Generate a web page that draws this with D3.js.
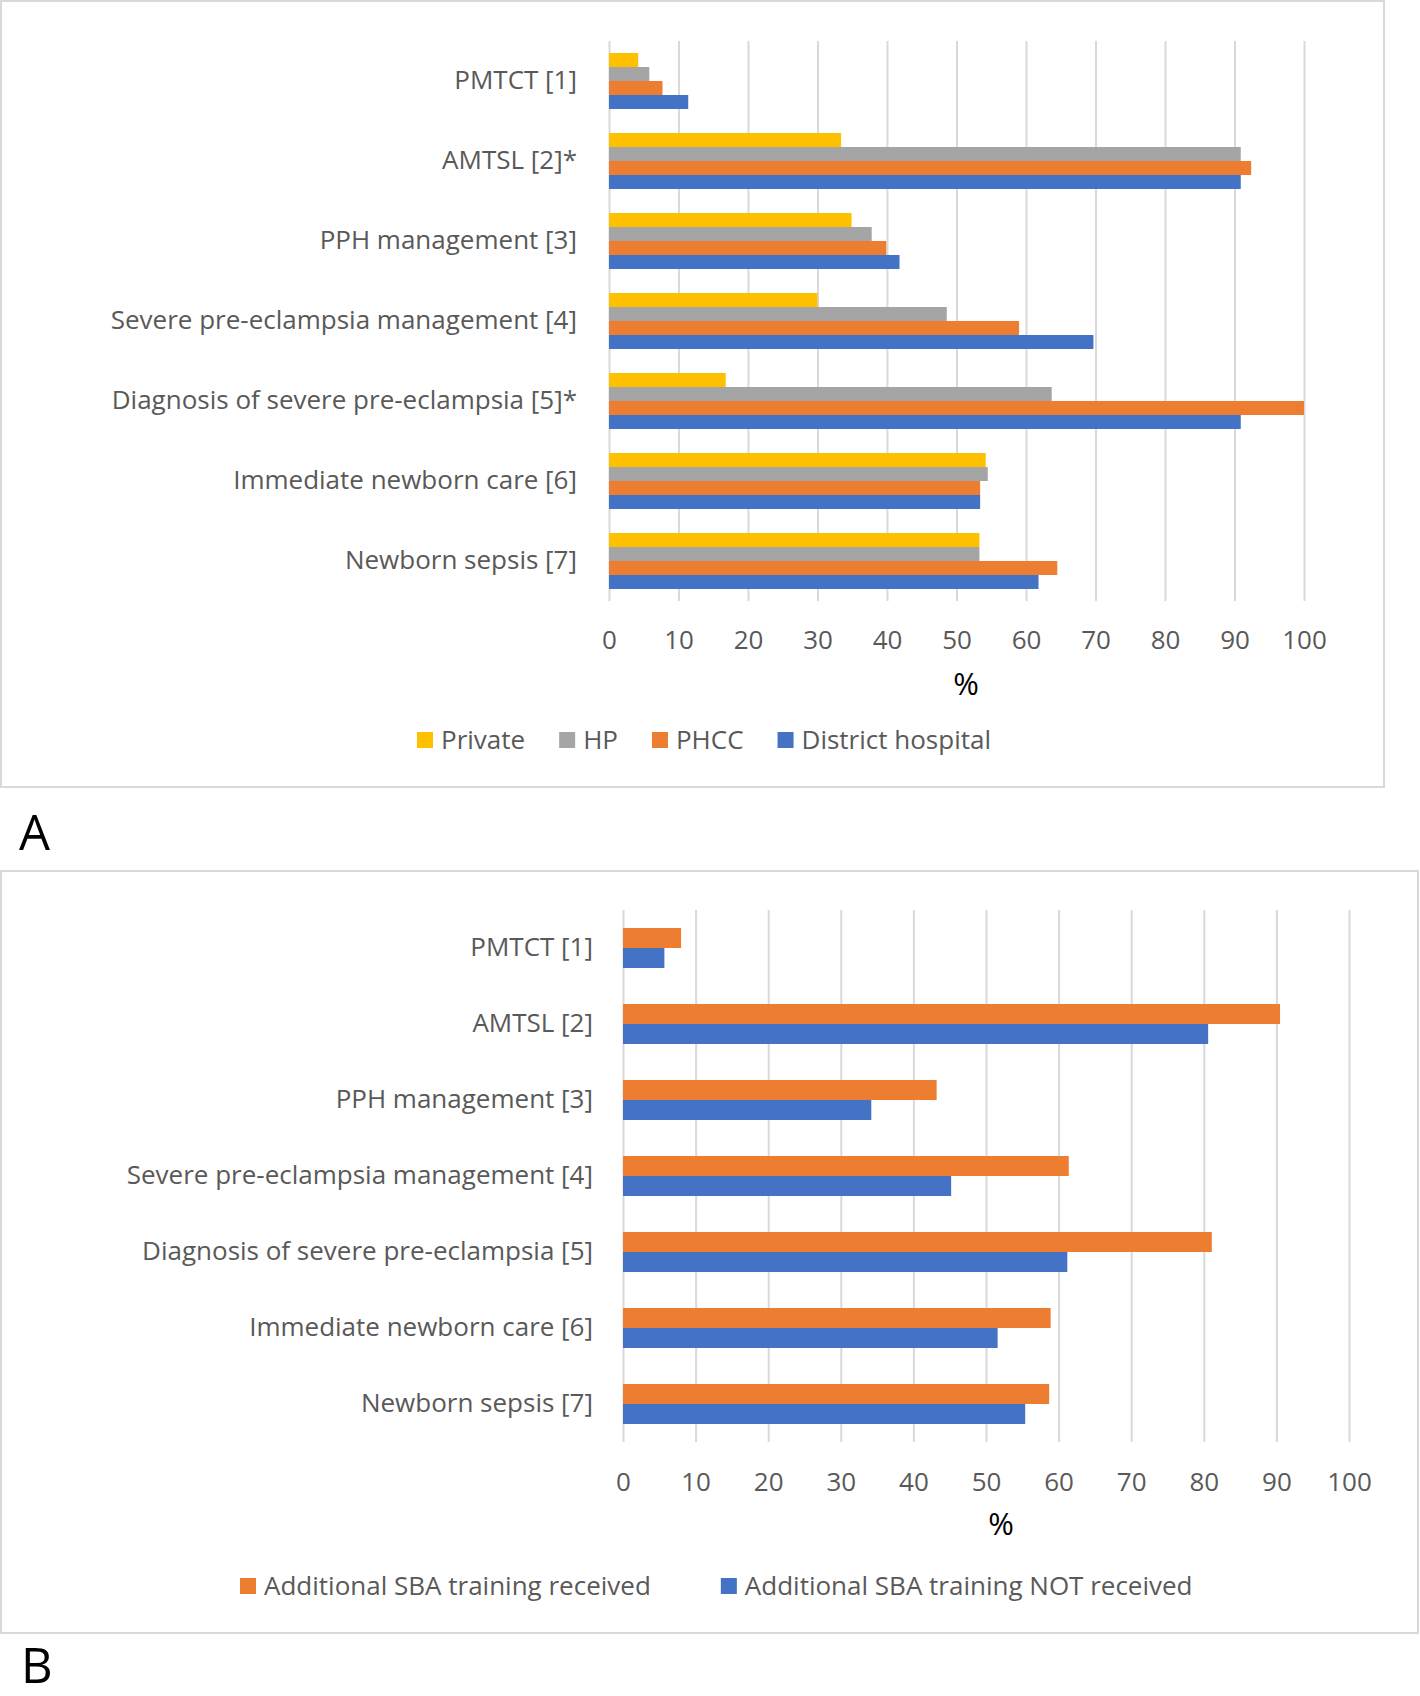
<!DOCTYPE html>
<html><head><meta charset="utf-8">
<script src="https://cdn.jsdelivr.net/npm/d3@7"></script>
<style>
body{margin:0;background:#fff}
svg{display:block}
text{font-family:"Open Sans",sans-serif}
</style>
</head><body>
<svg id="chart" width="1420" height="1696"></svg>
<script>
// ---------- data ----------
const categoriesA = ["PMTCT [1]", "AMTSL [2]*", "PPH management [3]", "Severe pre-eclampsia management [4]", "Diagnosis of severe pre-eclampsia [5]*", "Immediate newborn care [6]", "Newborn sepsis [7]"];
const seriesA = ["Private", "HP", "PHCC", "District hospital"];
const privateVals  = [4.2, 33.4, 34.9, 30.0, 16.8, 54.2, 53.3];
const hpVals       = [5.8, 90.9, 37.8, 48.6, 63.7, 54.5, 53.3];
const phccVals     = [7.7, 92.4, 39.9, 59.0, 100, 53.4, 64.5];
const districtVals = [11.4, 90.9, 41.8, 69.7, 90.9, 53.4, 61.8];

const categoriesB = ["PMTCT [1]", "AMTSL [2]", "PPH management [3]", "Severe pre-eclampsia management [4]", "Diagnosis of severe pre-eclampsia [5]", "Immediate newborn care [6]", "Newborn sepsis [7]"];
const seriesB = ["Additional SBA training received", "Additional SBA training NOT received"];
const receivedVals    = [8.0, 90.5, 43.2, 61.4, 81.1, 58.9, 58.7];
const notReceivedVals = [5.7, 80.6, 34.2, 45.2, 61.2, 51.6, 55.4];

const xTicks = [0, 10, 20, 30, 40, 50, 60, 70, 80, 90, 100];
const xDomain = [0, 100];
const axisTitle = "%";
const panelLabels = ["A", "B"];

// ---------- styling ----------
const colorsA = ["#FFC000", "#A5A5A5", "#ED7D31", "#4472C4"];
const colorsB = ["#ED7D31", "#4472C4"];
const textGray = "#595959";
const gridGray = "#D9D9D9";
const fontSize = 26;

const svg = d3.select("#chart");

function drawPanel(cfg) {
  const g = svg.append("g");
  // border
  g.append("rect")
    .attr("x", cfg.box[0]).attr("y", cfg.box[1])
    .attr("width", cfg.box[2]).attr("height", cfg.box[3])
    .attr("fill", "#fff").attr("stroke", gridGray).attr("stroke-width", 2);

  const x = d3.scaleLinear().domain(xDomain).range([cfg.x0, cfg.x1]);
  const y = d3.scaleBand().domain(cfg.categories).range([cfg.yTop, cfg.yBottom])
    .paddingInner(cfg.padInner).paddingOuter(cfg.padOuter);
  const inner = d3.scaleBand().domain(cfg.series).range([0, y.bandwidth()]);

  // gridlines
  const grid = g.append("g").attr("transform", `translate(0,${cfg.yBottom})`)
    .call(d3.axisBottom(x).tickValues(xTicks).tickSize(-(cfg.yBottom - cfg.yTop)).tickFormat(""));
  grid.select(".domain").remove();
  grid.selectAll("line").attr("stroke", gridGray).attr("stroke-width", 2);

  // bars
  const rows = cfg.categories.map((c, i) => ({cat: c, vals: cfg.values.map(v => v[i])}));
  const grp = g.selectAll(".grp").data(rows).join("g")
    .attr("transform", d => `translate(0,${y(d.cat)})`);
  grp.selectAll("rect").data(d => d.vals.map((v, k) => ({s: cfg.series[k], v, k})))
    .join("rect")
    .attr("x", x(0))
    .attr("y", d => inner(d.s))
    .attr("width", d => x(d.v) - x(0))
    .attr("height", inner.bandwidth())
    .attr("fill", d => cfg.colors[d.k]);

  // x tick labels
  const xa = g.append("g").attr("transform", `translate(0,${cfg.yBottom})`)
    .call(d3.axisBottom(x).tickValues(xTicks).tickSize(0).tickPadding(cfg.tickPad));
  xa.select(".domain").remove();
  xa.selectAll("text").attr("font-size", fontSize).attr("fill", textGray)
    .attr("font-family", "'Open Sans',sans-serif");

  // category labels
  const ya = g.append("g").attr("transform", `translate(${cfg.x0},0)`)
    .call(d3.axisLeft(y).tickSize(0).tickPadding(cfg.labelPad));
  ya.select(".domain").remove();
  ya.selectAll("text").attr("font-size", fontSize).attr("fill", textGray)
    .attr("font-family", "'Open Sans',sans-serif");

  // axis title
  g.append("text").attr("x", cfg.titleX).attr("y", cfg.titleY)
    .attr("text-anchor", "middle").attr("font-size", 31).attr("fill", "#000")
    .text(axisTitle);

  // legend
  let lx = cfg.legendX;
  cfg.series.forEach((s, k) => {
    g.append("rect").attr("x", lx).attr("y", cfg.legendY - 8)
      .attr("width", 16).attr("height", 16).attr("fill", cfg.colors[k]);
    const t = g.append("text").attr("x", lx + 24).attr("y", cfg.legendY)
      .attr("dy", "0.35em").attr("font-size", fontSize).attr("fill", textGray).text(s);
    lx += 24 + t.node().getComputedTextLength() + cfg.legendGap;
  });

  // panel label
  svg.append("text").attr("x", cfg.labelPos[0]).attr("y", cfg.labelPos[1])
    .attr("font-size", 49).attr("fill", "#000").text(cfg.panelLabel);
}

drawPanel({
  box: [1, 1, 1383, 786],
  categories: categoriesA, series: seriesA,
  values: [privateVals, hpVals, phccVals, districtVals], colors: colorsA,
  x0: 609, x1: 1304, yTop: 41, yBottom: 601, padInner: 0.3, padOuter: 0.15,
  tickPad: 30, labelPad: 32,
  titleX: 966, titleY: 695,
  legendX: 417, legendY: 740, legendGap: 34,
  panelLabel: panelLabels[0], labelPos: [19, 850]
});

drawPanel({
  box: [1, 871, 1417, 762],
  categories: categoriesB, series: seriesB,
  values: [receivedVals, notReceivedVals], colors: colorsB,
  x0: 623, x1: 1349, yTop: 910, yBottom: 1442, padInner: 36 / 76, padOuter: 18 / 76,
  tickPad: 31, labelPad: 30,
  titleX: 1001, titleY: 1535,
  legendX: 240, legendY: 1586, legendGap: 70,
  panelLabel: panelLabels[1], labelPos: [21, 1683]
});
</script>
</body></html>
